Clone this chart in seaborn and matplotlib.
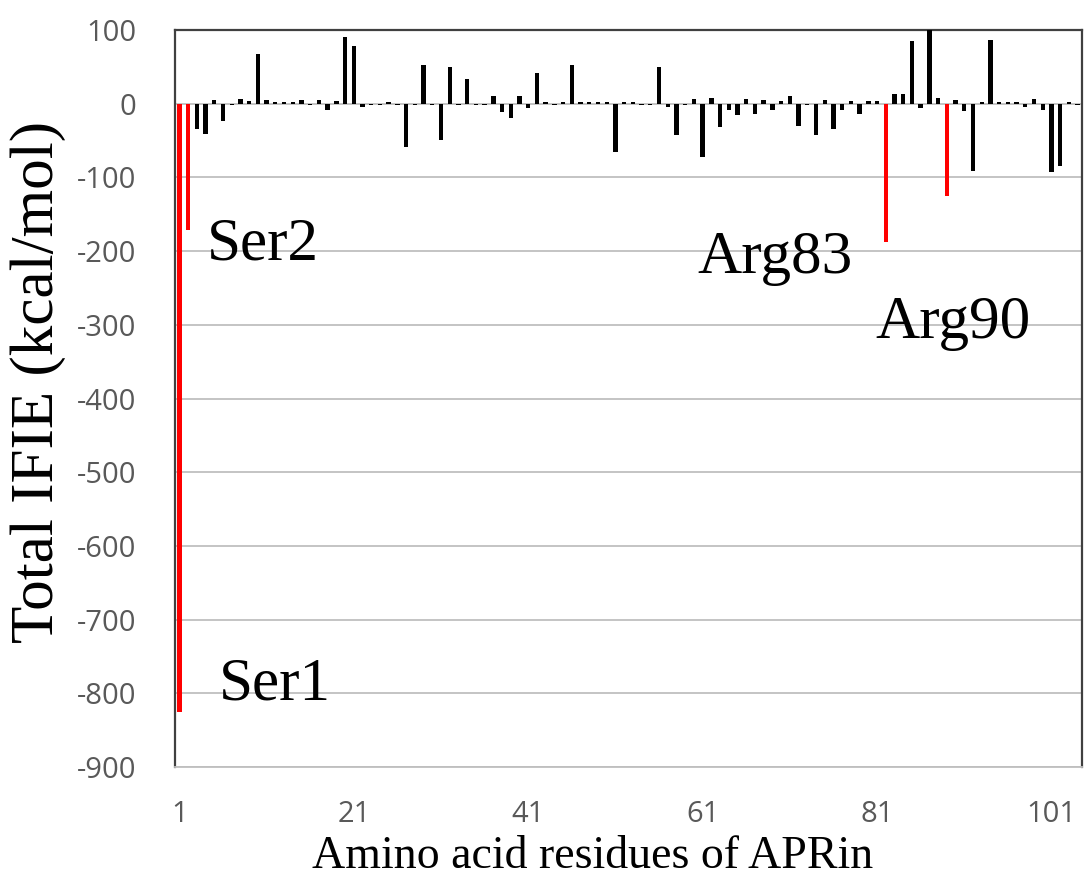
import matplotlib
matplotlib.use("Agg")
import matplotlib.pyplot as plt
import seaborn as sns
import pandas as pd
import numpy as np

# ---- data ----
residues = list(range(1, 105))
ifie = [-825, -172, -35, -41, 5, -24, -2, 6, 3, 68,
        5, 2, 2, 2, 5, -2, 5, -8, 3, 90,
        78, -4, -2, -2, 2, -2, -59, -2, 53, -2,
        -49, 50, -2, 33, -2, -2, 11, -11, -20, 11,
        -6, 42, 2, -2, 2, 53, 2, 2, 2, 2,
        -66, 2, 2, -2, -2, 50, -4, -42, -2, 6,
        -72, 8, -32, -8, -16, 6, -14, 5, -9, 3,
        11, -30, -2, -43, 5, -35, -8, 3, -14, 4,
        4, -187, 13, 13, 85, -6, 100, 8, -125, 5,
        -10, -91, 2, 87, 2, 2, 2, -4, 6, -8,
        -93, -84, 2, -2]
highlight = [1, 2, 82, 89]
tick_labels = ["1", "21", "41", "61", "81", "101"]
annotations = ["Ser1", "Ser2", "Arg83", "Arg90"]

df = pd.DataFrame({"residue": [str(r) for r in residues], "ifie": ifie})
df["group"] = ["key" if r in highlight else "other" for r in residues]

sns.set_theme(style="white")
plt.rcParams["axes.unicode_minus"] = False
fig = plt.figure(figsize=(10.84, 8.80), dpi=100)
ax = fig.add_axes([175/1084, 1-767/880, (1082-175)/1084, (767-30)/880])

sns.barplot(data=df, x="residue", y="ifie", hue="group",
            palette={"key": "#ff0000", "other": "#000000"},
            dodge=False, width=0.5, legend=False, ax=ax, saturation=1,
            order=[str(r) for r in residues], zorder=3)
for p in ax.patches:
    p.set_edgecolor("none")

ax.set_ylim(-900, 100)
ax.set_xlim(-0.5, len(residues) - 0.5)
ax.set_yticks(np.arange(-900, 101, 100))
ax.yaxis.grid(True, color="#bfbfbf", linewidth=1.3, zorder=0)
ax.set_axisbelow(True)

pos = [residues.index(int(t)) for t in tick_labels]
ax.set_xticks(pos)
ax.set_xticklabels(tick_labels)
ax.tick_params(axis="both", length=0, labelsize=21, labelcolor="#595959")
ax.tick_params(axis="y", pad=28)
ax.tick_params(axis="x", pad=24)
for lab in ax.get_xticklabels() + ax.get_yticklabels():
    lab.set_fontfamily("Open Sans")
ax.set_xlabel("")
ax.set_ylabel("")

for s in ["left", "top", "right"]:
    ax.spines[s].set_color("#404040")
    ax.spines[s].set_linewidth(1.6)
ax.spines["bottom"].set_color("#bfbfbf")
ax.spines["bottom"].set_linewidth(1.3)

serif = "Liberation Serif"
fig.text(593/1084, 1-857/880, "Amino acid residues of APRin", fontsize=33,
         family=serif, ha="center", va="center", color="black")
fig.text(38/1084, 1-382/880, "Total IFIE (kcal/mol)", fontsize=44,
         family=serif, ha="center", va="center", rotation=90, color="black")

ann_pos = [(275, 685), (263, 245), (775, 258), (953, 323)]
for txt, (px, py) in zip(annotations, ann_pos):
    fig.text(px/1084, 1-py/880, txt, fontsize=44, family=serif,
             ha="center", va="center", color="black")

fig.savefig("out.png", dpi=100)
